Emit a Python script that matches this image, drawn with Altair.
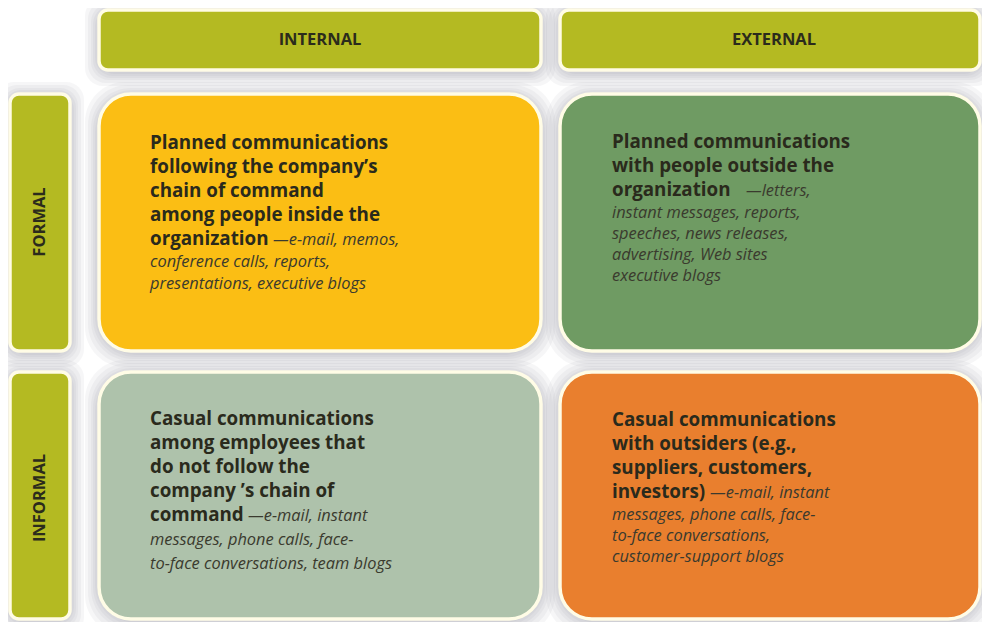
import altair as alt
import pandas as pd

# ---------------- content ----------------
col_labels = ["INTERNAL", "EXTERNAL"]
row_labels = ["FORMAL", "INFORMAL"]
header_color = "#B4BA22"
cell_colors = ["#FBBE14", "#6F9B63", "#AEC2AB", "#E97F2E"]  # TL, TR, BL, BR

cell_bold = [
    ["Planned communications", "following the company’s", "chain of command",
     "among people inside the", "organization"],
    ["Planned communications", "with people outside the", "organization"],
    ["Casual communications", "among employees that", "do not follow the",
     "company ’s chain of", "command"],
    ["Casual communications", "with outsiders (e.g.,", "suppliers, customers,",
     "investors)"],
]
cell_italic = [
    ["—e-mail, memos,", "conference calls, reports,", "presentations, executive blogs"],
    ["—letters,", "instant messages, reports,", "speeches, news releases,",
     "advertising, Web sites", "executive blogs"],
    ["—e-mail, instant", "messages, phone calls, face-", "to-face conversations, team blogs"],
    ["—e-mail, instant", "messages, phone calls, face-", "to-face conversations,",
     "customer-support blogs"],
]

# ---------------- layout (reference pixel space) ----------------
col_x = [(99, 541), (560, 980)]
row_y = [(94, 351), (372, 619)]
header_y = (10, 70)
side_x = (10, 70)
text_x = [150, 612]
first_y = [143, 142, 419, 420]
bold_step = 24
italic_step = [21.5, 21.2, 23.5, 21]
inline_x = [273, 746, 248, 710]
external_label_x = 774

W, H = 974, 614
xs = alt.Scale(domain=[8, 8 + W], nice=False, zero=False)
ys = alt.Scale(domain=[8, 8 + H], nice=False, zero=False, reverse=True)

# boxes
boxes = []
for j, (x0, x1) in enumerate(col_x):
    boxes.append(dict(x=x0, x2=x1, y=header_y[0], y2=header_y[1], kind="small", color=header_color))
for i, (y0, y1) in enumerate(row_y):
    boxes.append(dict(x=side_x[0], x2=side_x[1], y=y0, y2=y1, kind="small", color=header_color))
for i, (y0, y1) in enumerate(row_y):
    for j, (x0, x1) in enumerate(col_x):
        boxes.append(dict(x=x0, x2=x1, y=y0, y2=y1, kind="big", color=cell_colors[i * 2 + j]))
boxes = pd.DataFrame(boxes)

# shadow rings
shadow_rows = []
for d in [2, 4, 6, 8, 11, 14]:
    for _, b in boxes.iterrows():
        shadow_rows.append(dict(x=b.x - d, x2=b.x2 + d, y=b.y - d + 2, y2=b.y2 + d + 2, kind=b.kind))
shadows = pd.DataFrame(shadow_rows)


def enc(df):
    return dict(
        x=alt.X("x:Q", scale=xs, axis=None),
        x2="x2:Q",
        y=alt.Y("y:Q", scale=ys, axis=None),
        y2="y2:Q",
    )


layers = []
for kind, rad in [("small", 12), ("big", 34)]:
    s = shadows[shadows.kind == kind]
    layers.append(
        alt.Chart(s).mark_rect(cornerRadius=rad + 6, fill="#7d7d8c", opacity=0.07).encode(**enc(s))
    )
for kind, rad in [("small", 9), ("big", 32)]:
    b = boxes[boxes.kind == kind]
    layers.append(
        alt.Chart(b).mark_rect(cornerRadius=rad, stroke="#FFFCE6", strokeWidth=3.5).encode(
            **enc(b), fill=alt.Fill("color:N", scale=None)
        )
    )

# header / side labels
hdr = pd.DataFrame(dict(
    x=[(col_x[0][0] + col_x[0][1]) / 2, external_label_x],
    y=[(header_y[0] + header_y[1]) / 2] * 2, t=col_labels))
side = pd.DataFrame(dict(
    x=[(side_x[0] + side_x[1]) / 2] * 2, y=[222, 498], t=row_labels))
layers.append(
    alt.Chart(hdr).mark_text(font="Open Sans", fontWeight="bold", fontSize=16.5, color="#2b2b1c",
                             align="center", baseline="middle").encode(
        x=alt.X("x:Q", scale=xs, axis=None), y=alt.Y("y:Q", scale=ys, axis=None), text="t:N")
)
layers.append(
    alt.Chart(side).mark_text(font="Open Sans", fontWeight="bold", fontSize=16.5, color="#2b2b1c",
                              align="center", baseline="middle", angle=270).encode(
        x=alt.X("x:Q", scale=xs, axis=None), y=alt.Y("y:Q", scale=ys, axis=None), text="t:N")
)

# cell texts
bold_rows, ital_rows = [], []
for k in range(4):
    tx = text_x[k % 2]
    y = first_y[k]
    for n, line in enumerate(cell_bold[k]):
        bold_rows.append(dict(x=tx, y=y, t=line))
        if n < len(cell_bold[k]) - 1:
            y += bold_step
    ital_rows.append(dict(x=inline_x[k], y=y + 1, t=cell_italic[k][0]))
    y += 1.5
    for line in cell_italic[k][1:]:
        y += italic_step[k]
        ital_rows.append(dict(x=tx, y=y, t=line))
bold_df = pd.DataFrame(bold_rows)
ital_df = pd.DataFrame(ital_rows)

layers.append(
    alt.Chart(bold_df).mark_text(font="Open Sans", fontWeight="bold", fontSize=18.8, color="#2a2a1c",
                                 align="left", baseline="middle").encode(
        x=alt.X("x:Q", scale=xs, axis=None), y=alt.Y("y:Q", scale=ys, axis=None), text="t:N")
)
layers.append(
    alt.Chart(ital_df).mark_text(font="Open Sans", fontStyle="italic", fontSize=16.4, color="#3a3a2e",
                                 align="left", baseline="middle").encode(
        x=alt.X("x:Q", scale=xs, axis=None), y=alt.Y("y:Q", scale=ys, axis=None), text="t:N")
)

chart = alt.layer(*layers).properties(
    width=W, height=H, padding=0, background="#ffffff",
    autosize=alt.AutoSizeParams(type="none"),
).configure_view(strokeWidth=0)

chart.save("out.html", embed_options={"renderer": "svg", "actions": False})
